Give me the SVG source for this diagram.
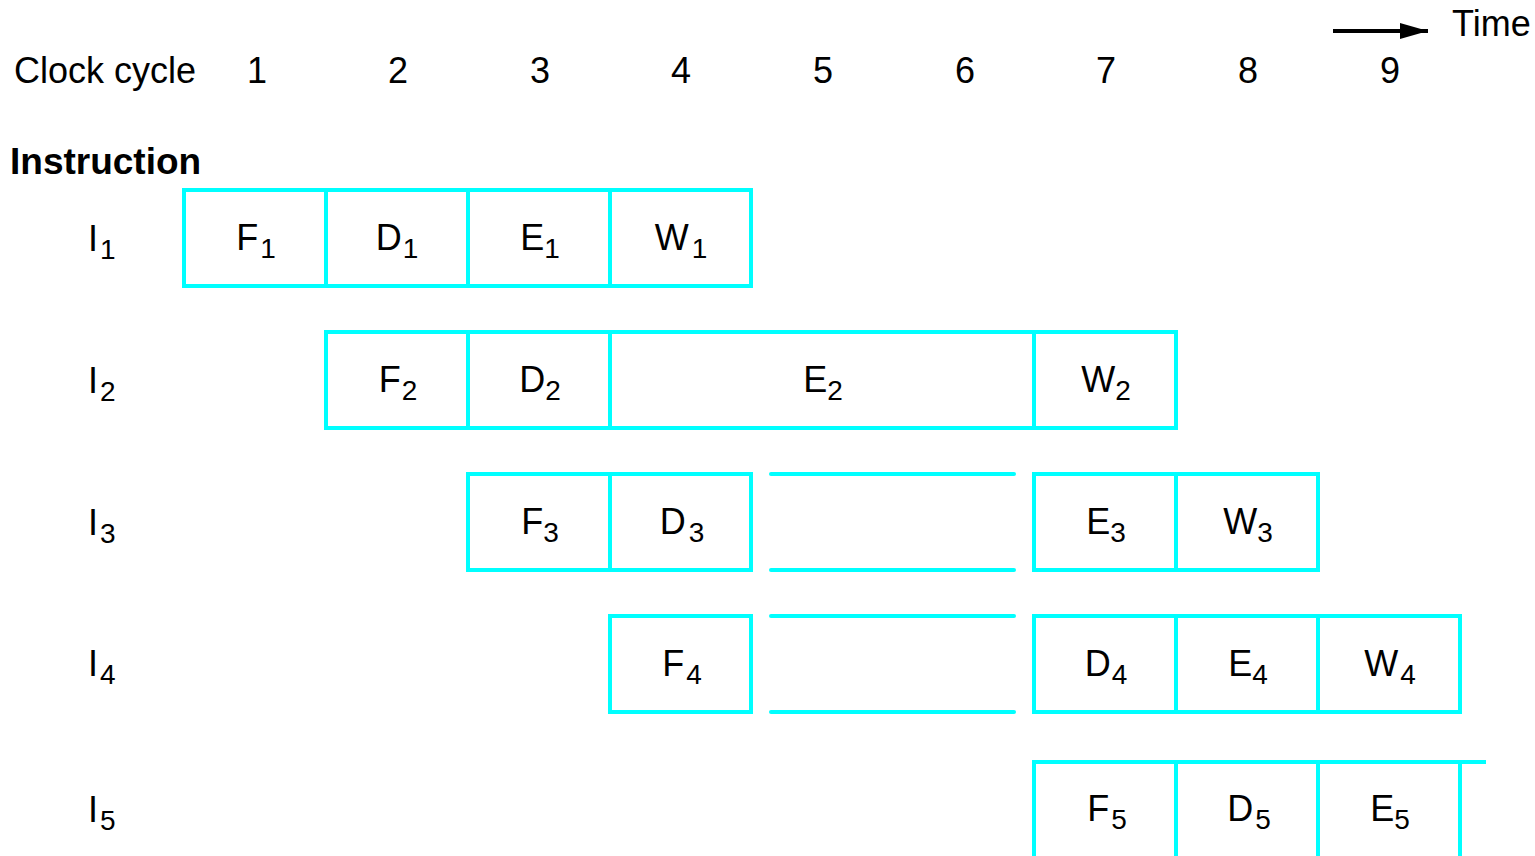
<svg xmlns="http://www.w3.org/2000/svg" width="1535" height="856" viewBox="0 0 1535 856">
<defs>
<style>
text{font-family:"Liberation Sans",Arial,sans-serif;fill:#000;}
.t{font-size:36px;}
.b{font-size:37px;font-weight:bold;}
.lbl{font-size:36px;text-anchor:middle;}
.rl{font-size:36px;}
.s{font-size:28px;}
.box{fill:none;stroke:#00ffff;stroke-width:4;}
.gap{stroke:#00ffff;stroke-width:4;stroke-linecap:round;fill:none;}
</style>
<marker id="ah" viewBox="0 0 28 16" refX="28" refY="8" markerWidth="28" markerHeight="16" orient="auto" markerUnits="userSpaceOnUse">
<path d="M0,0 L28,8 L0,16 Z" fill="#000"/>
</marker>
</defs>
<rect width="1535" height="856" fill="#fff"/>
<g id="header">
<text class="t" x="14" y="83">Clock cycle</text>
<text class="lbl" x="257" y="83">1</text>
<text class="lbl" x="398" y="83">2</text>
<text class="lbl" x="540" y="83">3</text>
<text class="lbl" x="681" y="83">4</text>
<text class="lbl" x="823" y="83">5</text>
<text class="lbl" x="965" y="83">6</text>
<text class="lbl" x="1106" y="83">7</text>
<text class="lbl" x="1248" y="83">8</text>
<text class="lbl" x="1390" y="83">9</text>
<text class="b" x="10" y="174">Instruction</text>
<text class="t" x="1452" y="36">Time</text>
</g>
<g id="connectors">
<line x1="1333" y1="31" x2="1428" y2="31" stroke="#000" stroke-width="4" marker-end="url(#ah)"/>
</g>
<g id="labels">
<text class="rl" x="88" y="251">I<tspan class="s" dx="2" dy="8">1</tspan></text>
<text class="rl" x="88" y="393">I<tspan class="s" dx="2" dy="8">2</tspan></text>
<text class="rl" x="88" y="535">I<tspan class="s" dx="2" dy="8">3</tspan></text>
<text class="rl" x="88" y="676">I<tspan class="s" dx="2" dy="8">4</tspan></text>
<text class="rl" x="88" y="822">I<tspan class="s" dx="2" dy="8">5</tspan></text>
</g>
<g id="row1">
<rect class="box" x="184" y="190" width="567" height="96"/>
<line class="box" x1="326" y1="190" x2="326" y2="286"/>
<line class="box" x1="468" y1="190" x2="468" y2="286"/>
<line class="box" x1="610" y1="190" x2="610" y2="286"/>
<text class="lbl" x="256" y="250">F<tspan class="s" dx="2" dy="8">1</tspan></text>
<text class="lbl" x="397" y="250">D<tspan class="s" dx="1" dy="8">1</tspan></text>
<text class="lbl" x="540" y="250">E<tspan class="s" dy="8">1</tspan></text>
<text class="lbl" x="681" y="250">W<tspan class="s" dx="3" dy="8">1</tspan></text>
</g>
<g id="row2">
<rect class="box" x="326" y="332" width="850" height="96"/>
<line class="box" x1="468" y1="332" x2="468" y2="428"/>
<line class="box" x1="610" y1="332" x2="610" y2="428"/>
<line class="box" x1="1034" y1="332" x2="1034" y2="428"/>
<text class="lbl" x="398" y="392">F<tspan class="s" dx="1" dy="8">2</tspan></text>
<text class="lbl" x="540" y="392">D<tspan class="s" dy="8">2</tspan></text>
<text class="lbl" x="823" y="392">E<tspan class="s" dy="8">2</tspan></text>
<text class="lbl" x="1106" y="392">W<tspan class="s" dy="8">2</tspan></text>
</g>
<g id="row3">
<rect class="box" x="468" y="474" width="283" height="96"/>
<line class="box" x1="610" y1="474" x2="610" y2="570"/>
<line class="gap" x1="771" y1="474" x2="1014" y2="474"/>
<line class="gap" x1="771" y1="570" x2="1014" y2="570"/>
<rect class="box" x="1034" y="474" width="284" height="96"/>
<line class="box" x1="1176" y1="474" x2="1176" y2="570"/>
<text class="lbl" x="540" y="534">F<tspan class="s" dy="8">3</tspan></text>
<text class="lbl" x="682" y="534">D<tspan class="s" dx="3" dy="8">3</tspan></text>
<text class="lbl" x="1106" y="534">E<tspan class="s" dy="8">3</tspan></text>
<text class="lbl" x="1248" y="534">W<tspan class="s" dy="8">3</tspan></text>
</g>
<g id="row4">
<rect class="box" x="610" y="616" width="141" height="96"/>
<line class="gap" x1="771" y1="616" x2="1014" y2="616"/>
<line class="gap" x1="771" y1="712" x2="1014" y2="712"/>
<rect class="box" x="1034" y="616" width="426" height="96"/>
<line class="box" x1="1176" y1="616" x2="1176" y2="712"/>
<line class="box" x1="1318" y1="616" x2="1318" y2="712"/>
<text class="lbl" x="682" y="676">F<tspan class="s" dx="2" dy="8">4</tspan></text>
<text class="lbl" x="1106" y="676">D<tspan class="s" dx="1" dy="8">4</tspan></text>
<text class="lbl" x="1248" y="676">E<tspan class="s" dy="8">4</tspan></text>
<text class="lbl" x="1390" y="676">W<tspan class="s" dx="2" dy="8">4</tspan></text>
</g>
<g id="row5">
<path class="box" d="M1034,860 V762 H1486"/>
<line class="box" x1="1176" y1="762" x2="1176" y2="860"/>
<line class="box" x1="1318" y1="762" x2="1318" y2="860"/>
<line class="box" x1="1460" y1="762" x2="1460" y2="860"/>
<text class="lbl" x="1107" y="821">F<tspan class="s" dx="2" dy="8">5</tspan></text>
<text class="lbl" x="1249" y="821">D<tspan class="s" dx="2" dy="8">5</tspan></text>
<text class="lbl" x="1390" y="821">E<tspan class="s" dy="8">5</tspan></text>
</g>
</svg>
